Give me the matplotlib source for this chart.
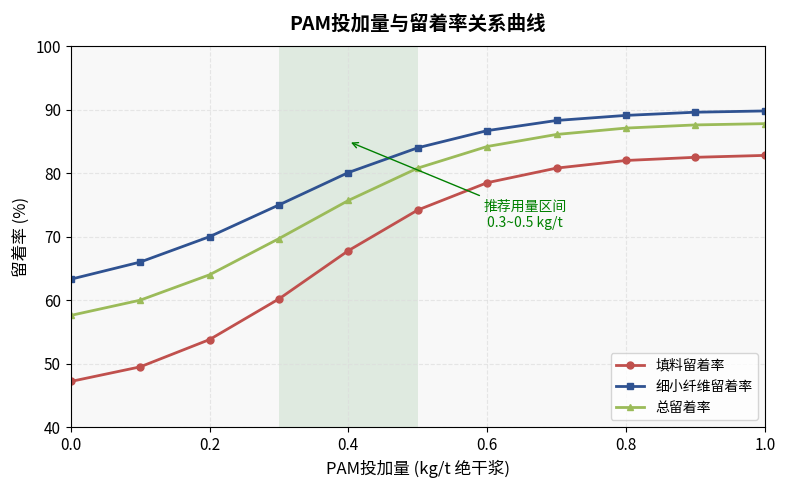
import matplotlib
matplotlib.use('Agg')
import matplotlib.pyplot as plt
import numpy as np

plt.rcParams['font.family'] = ['Noto Sans CJK SC', 'DejaVu Sans']
plt.rcParams['axes.unicode_minus'] = False

# PAM dosage (kg/t) and retention (%)
dose = [0.0, 0.1, 0.2, 0.3, 0.4, 0.5, 0.6, 0.7, 0.8, 0.9, 1.0]
filler = [47.2, 49.5, 53.8, 60.2, 67.8, 74.2, 78.5, 80.8, 82.0, 82.5, 82.8]
fines = [63.3, 66.0, 70.0, 75.0, 80.1, 84.0, 86.7, 88.3, 89.1, 89.6, 89.8]
total = [57.6, 60.0, 64.0, 69.7, 75.7, 80.8, 84.2, 86.1, 87.1, 87.6, 87.8]

fig, ax = plt.subplots(figsize=(7.86, 4.86), dpi=100)
fig.subplots_adjust(left=0.090, right=0.973, top=0.905, bottom=0.121)
ax.set_facecolor('#f8f8f8')

ax.axvspan(0.3, 0.5, color='#2e8b3a', alpha=0.12, lw=0)

ax.plot(dose, filler, color='#c0504d', marker='o', ms=5, lw=2, label='填料留着率')
ax.plot(dose, fines, color='#2f5291', marker='s', ms=5, lw=2, label='细小纤维留着率')
ax.plot(dose, total, color='#9bbb59', marker='^', ms=5, lw=2, label='总留着率')

ax.annotate('推荐用量区间\n0.3~0.5 kg/t', xy=(0.4, 85), xytext=(0.655, 73.5),
            ha='center', va='center', color='green', fontsize=10,
            arrowprops=dict(arrowstyle='->', color='green', lw=1))

ax.set_xlim(0, 1)
ax.set_ylim(40, 100)
ax.grid(True, linestyle='--', color='#dddddd', alpha=0.7)
ax.set_xlabel('PAM投加量 (kg/t 绝干浆)', fontsize=12)
ax.set_ylabel('留着率 (%)', fontsize=12)
ax.set_title('PAM投加量与留着率关系曲线', fontsize=14, fontweight='bold', pad=12)
ax.tick_params(labelsize=11)
ax.legend(loc='lower right', fontsize=10)

plt.savefig('out.png', dpi=100)
